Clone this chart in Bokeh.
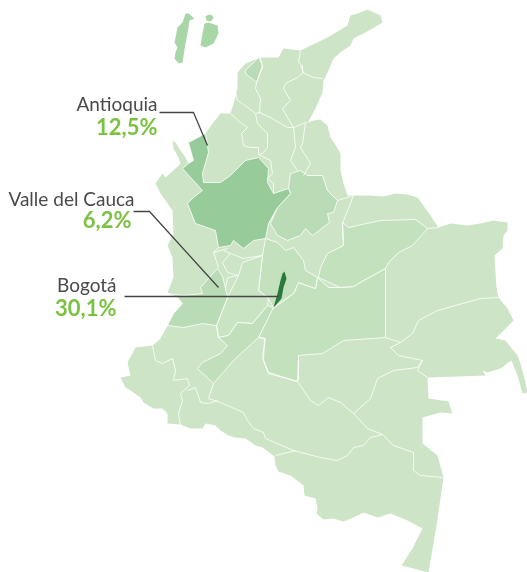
from bokeh.plotting import figure
from bokeh.models import Range1d
from bokeh.core.properties import value
from bokeh.embed import file_html
from bokeh.resources import INLINE

# Map shapes: (x, y) in picture units
colombia = [(367,9),(380,15),(382,22),(372,28),(363,33),(353,38),(350,45),(341,51),(333,58),(328,70),(323,80),(322,92),(315,108),(308,121),(305,123),(313,120),(320,119),(327,125),(330,137),(336,146),(340,153),(340,170),(343,183),(347,195),(353,195),(368,195),(383,196),(395,193),(407,194),(417,197),(428,212),(438,227),(450,223),(467,225),(480,223),(493,220),(507,222),(507,230),(503,235),(502,248),(494,255),(495,272),(496,287),(498,297),(507,308),(513,320),(495,338),(505,340),(517,355),(520,363),(524,378),(527,392),(522,393),(517,375),(511,360),(500,368),(487,372),(482,370),(485,375),(456,376),(427,377),(428,398),(448,401),(452,413),(440,412),(422,417),(422,443),(437,455),(443,477),(436,525),(428,572),(413,568),(401,565),(412,548),(422,528),(407,520),(390,513),(377,517),(363,512),(353,517),(343,521),(333,518),(323,519),(316,513),(317,508),(315,498),(304,495),(303,485),(290,475),(278,471),(275,465),(274,456),(270,453),(262,447),(255,445),(245,438),(235,437),(228,435),(220,430),(215,425),(205,423),(202,428),(190,428),(180,424),(167,423),(167,413),(162,408),(153,408),(143,402),(140,397),(130,390),(125,387),(120,377),(130,375),(127,362),(135,347),(152,345),(160,338),(167,325),(173,313),(182,303),(177,297),(167,292),(173,277),(172,257),(167,245),(173,233),(172,210),(160,193),(155,183),(162,173),(165,177),(175,168),(180,163),(178,157),(173,148),(172,140),(175,142),(180,150),(185,157),(188,163),(193,160),(188,142),(205,133),(212,123),(220,113),(230,113),(234,100),(237,88),(237,72),(245,63),(260,57),(278,57),(283,48),(300,50),(327,37),(347,25),(350,15),(357,13)]
antioquia = [(188,142),(205,133),(207,145),(208,152),(202,173),(203,182),(220,182),(230,175),(245,160),(258,157),(268,168),(267,182),(273,193),(288,188),(290,193),(277,207),(268,223),(265,238),(253,240),(243,248),(233,240),(230,245),(218,247),(215,230),(195,223),(187,203),(193,197),(202,190),(182,168),(188,163),(193,160)]
valle = [(167,293),(183,295),(202,293),(200,287),(217,268),(222,276),(225,288),(227,297),(216,325),(202,323),(193,325),(183,327),(167,325),(173,313),(182,303),(177,297)]
santander = [(288,188),(290,173),(300,170),(307,175),(322,175),(327,190),(337,200),(333,212),(327,213),(329,222),(312,235),(305,228),(300,235),(287,240),(277,235),(270,223),(277,207),(290,193)]
casanare = [(342,222),(348,227),(380,220),(415,219),(427,228),(412,245),(398,252),(388,262),(385,268),(363,280),(353,286),(340,287),(318,277),(320,267),(327,253),(343,245)]
meta = [(317,277),(328,287),(340,287),(353,286),(363,280),(385,268),(385,337),(343,340),(322,353),(298,355),(297,381),(268,372),(262,357),(265,338),(258,337),(270,310),(293,293),(298,282),(315,288)]
huila = [(242,262),(262,255),(258,290),(268,298),(267,305),(252,323),(237,322),(228,335),(218,337),(216,325),(227,297),(238,275)]
caqueta_arm = [(197,368),(202,362),(220,353),(227,345),(218,337),(228,335),(237,322),(252,323),(267,305),(273,307),(258,337),(247,347),(233,360),(213,383)]
cundinamarca = [(265,238),(277,242),(285,250),(293,247),(303,260),(305,270),(317,277),(315,288),(298,282),(293,293),(273,307),(268,298),(258,290),(262,255)]
atlantico = [(245,70),(258,57),(262,65),(256,82),(245,73)]
isla_a = [(185,13),(188,13),(194,18),(189,20),(187,33),(185,43),(182,62),(178,63),(174,58),(175,52),(177,47),(174,42),(177,27),(182,22)]
isla_b = [(208,22),(217,25),(218,33),(213,43),(205,47),(200,45),(202,33),(204,23)]
isla_c = [(205,16),(208,14),(212,15),(213,18),(210,21),(206,20)]
bogota = [(284,271),(286,278),(283,287),(281,298),(275,305),(273,307),(277,293),(280,280),(282,273)]

borders = [
    [(300,50),(298,62),(302,65),(302,72),(313,77),(322,78)],
    [(300,65),(303,72),(297,77),(285,83),(283,88),(290,100),(282,108),(287,117),(293,127)],
    [(260,57),(262,67),(256,82),(255,88),(260,98),(259,112),(270,117),(287,127),(293,127)],
    [(235,92),(237,100),(242,103),(255,113),(260,112)],
    [(255,113),(257,123),(267,133),(267,147),(262,153),(258,154)],
    [(230,113),(240,122),(247,127),(241,133),(243,145),(250,147),(258,147),(258,153)],
    [(293,127),(295,147),(290,160),(297,170)],
    [(258,154),(270,160),(272,173),(267,178),(273,183),(273,193)],
    [(293,127),(305,122),(302,143),(300,147),(310,163),(303,175)],
    [(337,200),(353,195),(342,223),(343,245)],
    [(218,247),(213,252),(218,267)],
    [(223,250),(230,253),(222,262),(227,272),(238,275)],
    [(213,252),(227,248)],
    [(230,253),(243,258),(262,255)],
    [(225,288),(227,277),(238,275)],
    [(152,345),(155,360),(162,363),(172,358),(175,370),(173,380),(187,378),(189,385),(180,393),(182,400),(178,413),(180,425)],
    [(187,390),(195,387),(200,402),(208,403),(217,400)],
    [(213,383),(208,398),(220,402)],
    [(167,325),(152,345)],
    [(216,325),(218,337)],
    [(220,402),(243,412),(247,420),(253,428),(263,432),(265,438),(293,450),(320,457),(337,460),(347,455),(353,447),(363,445),(370,437),(382,434)],
    [(275,455),(295,450)],
    [(258,337),(264,338),(263,360),(268,373),(297,381),(310,400),(318,405),(328,397),(340,402),(353,413),(367,428),(382,434),(393,445),(413,452),(413,470),(420,475),(442,477)],
    [(353,413),(370,398),(377,378),(393,370),(417,367),(422,360)],
    [(298,355),(298,380)],
    [(385,337),(400,342),(390,347),(398,355),(422,360),(417,370),(427,377)],
    [(400,342),(412,333),(418,320),(437,310),(480,298),(498,297)],
    [(427,228),(438,227)],
]

leader_antioquia = [(159,112),(193,112),(207,145)]
leader_valle = [(133,211),(149,211),(218,287)]
leader_bogota = [(124,296),(278,296)]

names = ["Antioquia", "Valle del Cauca", "Bogotá"]
shares = ["12,5%", "6,2%", "30,1%"]
label_x = [157, 134, 116]
share_x = [157, 131, 116]
name_y = [103, 198, 284]
share_y = [126, 219, 307]

base_c, mid_c, light_c, soft_c = "#cde5c6", "#98cb9a", "#b9dcb6", "#c4e1be"
styled = [(colombia, base_c), (meta, soft_c), (casanare, soft_c), (cundinamarca, soft_c), (huila, "#c9e4c3"),
          (caqueta_arm, "#c1dfbb"), (santander, light_c), (valle, light_c), (atlantico, light_c), (antioquia, mid_c)]

p = figure(width=527, height=572, x_range=Range1d(0, 527), y_range=Range1d(572, 0),
           output_backend="svg", toolbar_location=None, min_border=0,
           outline_line_color=None, background_fill_color="white", border_fill_color="white")
p.axis.visible = False
p.grid.visible = False
p.styles = {"position": "fixed", "left": "0", "top": "0"}

def xs(pts): return [a for a, _ in pts]
def ys(pts): return [b for _, b in pts]

for shape, col in styled:
    p.patch(xs(shape), ys(shape), fill_color=col, line_color="white" if shape is not colombia else None, line_width=0.8)
for line in borders:
    p.line(xs(line), ys(line), line_color="white", line_width=0.8)
for isle in (isla_a, isla_b, isla_c):
    p.patch(xs(isle), ys(isle), fill_color="#a9d6a6", line_color=None)
p.patch(xs(bogota), ys(bogota), fill_color="#2a7a40", line_color=None)
for line in (leader_antioquia, leader_valle, leader_bogota):
    p.line(xs(line), ys(line), line_color="#444444", line_width=1.3)

p.text(label_x, name_y, text=names, text_align="right", text_baseline="alphabetic",
       text_font=value("Lato"), text_font_size="19px", text_color="#4a4a4a")
p.text(share_x, share_y, text=shares, text_align="right", text_baseline="alphabetic",
       text_font=value("Lato"), text_font_style="bold", text_font_size="22px", text_color="#7cc242")

open("out.html", "w").write(file_html(p, INLINE))
